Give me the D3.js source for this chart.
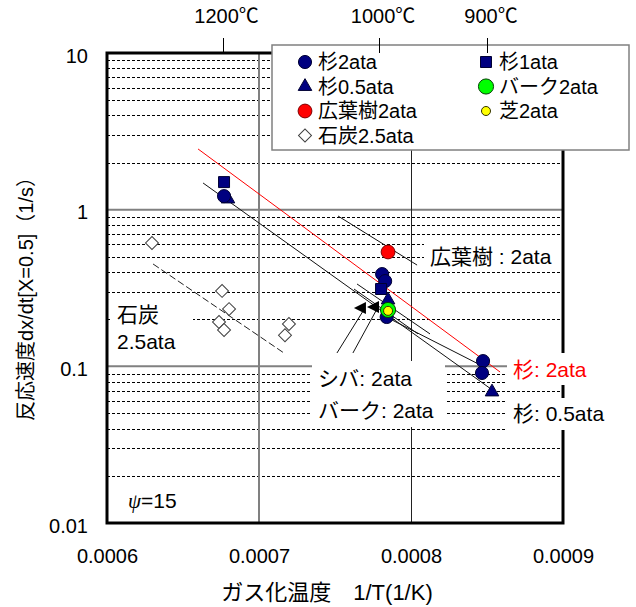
<!DOCTYPE html>
<meta charset="utf-8">
<html>
<head>
<script type="text/javascript" src="https://d3js.org/d3.v7.js"></script>
<style>
  body { margin: 0; background: white; }
  text { font-family: "Liberation Sans", "Noto Sans CJK JP", sans-serif; fill: black; }
</style>
</head>
<body>
<div id="plotArea"></div>
<script>

  // values (x = 1/T [1/K], y = dx/dt [1/s])
  const xTicks = [0.0006, 0.0007, 0.0008, 0.0009];
  const yTicks = [10, 1, 0.1, 0.01];
  const tempLabels = ['1200℃', '1000℃', '900℃'];
  const tempInvT = [0.000676, 0.000779, 0.000850];

  const sugi2X = [0.000677, 0.000781, 0.000783, 0.000784, 0.0008474, 0.0008467];
  const sugi2Y = [1.22, 0.388, 0.350, 0.2065, 0.108, 0.0907];
  const sugi1X = [0.000677, 0.0007803];
  const sugi1Y = [1.50, 0.3116];
  const sugi05X = [0.0006796, 0.0007849, 0.0008533];
  const sugi05Y = [1.17, 0.265, 0.0686];
  const barkX = [0.0007849];
  const barkY = [0.229];
  const broadX = [0.0007849];
  const broadY = [0.537];
  const shibaX = [0.0007849];
  const shibaY = [0.226];
  const coalX = [0.0006296, 0.0006757, 0.0006803, 0.0006737, 0.000677, 0.0007197, 0.0007171];
  const coalY = [0.613, 0.303, 0.232, 0.192, 0.1706, 0.1864, 0.158];

  // fitted lines (end points)
  const fitSugi2X = [0.0006599, 0.0008586], fitSugi2Y = [2.44, 0.092];
  const fitSugi05X = [0.0006632, 0.0008526], fitSugi05Y = [1.48, 0.0717];
  const fitBroadX = [0.000752, 0.000804], fitBroadY = [0.911, 0.443];
  const fitCoalX = [0.0006303, 0.0007164], fitCoalY = [0.450, 0.1217];
  const fitShibaX = [0.0007645, 0.0008125], fitShibaY = [0.3354, 0.161];
  const fitBarkX = [0.0007625, 0.0008046], fitBarkY = [0.3116, 0.161];
  const fitSugi1X = [0.0007875, 0.0008474], fitSugi1Y = [0.1976, 0.100];

  // annotation arrows (tail -> head)
  const arrowShibaX = [0.0007513, 0.0007697], arrowShibaY = [0.1217, 0.2357];
  const arrowBarkX = [0.0007618, 0.0007783], arrowBarkY = [0.1217, 0.239];

  // set the dimensions and margins of the graph
  const margin = {top: 53, right: 73, bottom: 84, left: 107},
        width = 636 - margin.left - margin.right,
        height = 607 - margin.top - margin.bottom;

  const svg = d3.select("#plotArea")
                .append("svg")
                .attr("width", 636)
                .attr("height", 607);
  const g = svg.append("g").attr("transform", `translate(${margin.left}, ${margin.top})`);

  const xScale = d3.scaleLinear().domain([0.0006, 0.0009]).range([0, width]);
  const yScale = d3.scaleLog().domain([0.01, 10]).range([height, 0]);
  const px = v => Math.round(v) + 0.5;

  // dashed minor grid
  var minor = [];
  [0.01, 0.1, 1].forEach(function(d) { for (var k = 2; k < 10; k++) minor.push(k * d); });
  g.append('g').selectAll('line').data(minor).enter().append('line')
    .attr('x1', 0).attr('x2', width)
    .attr('y1', d => px(yScale(d))).attr('y2', d => px(yScale(d)))
    .attr('stroke', 'black').attr('stroke-width', 1).attr('stroke-dasharray', '3,2');

  // major grid
  g.append('g').selectAll('line').data([1, 0.1]).enter().append('line')
    .attr('x1', 0).attr('x2', width)
    .attr('y1', d => yScale(d)).attr('y2', d => yScale(d))
    .attr('stroke', '#808080').attr('stroke-width', 2);
  g.append('line')
    .attr('x1', xScale(0.0007)).attr('x2', xScale(0.0007)).attr('y1', 0).attr('y2', height)
    .attr('stroke', '#808080').attr('stroke-width', 2);
  g.append('line')
    .attr('x1', px(xScale(0.0008))).attr('x2', px(xScale(0.0008))).attr('y1', 0).attr('y2', height)
    .attr('stroke', '#222').attr('stroke-width', 1);

  // white boxes behind the text labels
  const boxes = svg.append('g');
  function box(parent, x, y, w, h) {
    parent.append('rect').attr('x', x).attr('y', y).attr('width', w).attr('height', h).attr('fill', 'white');
  }
  box(boxes, 424, 241, 137, 28);
  box(boxes, 312, 361, 133, 66);
  box(boxes, 110, 298, 83, 60);

  // fitted lines
  const line = d3.line().x(d => xScale(d[0])).y(d => yScale(d[1]));
  function fit(xs, ys, color, dash) {
    g.append('path').datum(d3.zip(xs, ys)).attr('d', line)
      .attr('fill', 'none').attr('stroke', color).attr('stroke-width', 1)
      .attr('stroke-dasharray', dash || null);
  }
  fit(fitSugi2X, fitSugi2Y, 'red');
  fit(fitSugi05X, fitSugi05Y, '#111');
  fit(fitBroadX, fitBroadY, '#111');
  fit(fitCoalX, fitCoalY, '#222', '7,3');
  fit(fitShibaX, fitShibaY, '#111');
  fit(fitBarkX, fitBarkY, '#111');
  fit(fitSugi1X, fitSugi1Y, '#111');

  // arrows
  [[arrowShibaX, arrowShibaY], [arrowBarkX, arrowBarkY]].forEach(function(a) {
    fit(a[0], a[1], '#111');
    var hx = xScale(a[0][1]), hy = yScale(a[1][1]);
    g.append('path')
      .attr('d', `M${hx - 11},${hy} L${hx + 1},${hy - 6} L${hx + 1},${hy + 6} Z`)
      .attr('fill', 'black');
  });

  // series table
  const series = [
    {name: '杉2ata', xs: sugi2X, ys: sugi2Y, type: d3.symbolCircle, size: 135, fill: '#000080', stroke: '#000033', rot: 0},
    {name: '杉1ata', xs: sugi1X, ys: sugi1Y, type: d3.symbolSquare, size: 121, fill: '#000080', stroke: '#000033', rot: 0},
    {name: '杉0.5ata', xs: sugi05X, ys: sugi05Y, type: d3.symbolTriangle, size: 80, fill: '#000080', stroke: '#000033', rot: 0},
    {name: 'バーク2ata', xs: barkX, ys: barkY, type: d3.symbolCircle, size: 180, fill: '#00ff00', stroke: '#004000', rot: 0},
    {name: '広葉樹2ata', xs: broadX, ys: broadY, type: d3.symbolCircle, size: 150, fill: '#ff0000', stroke: '#800000', rot: 0},
    {name: '芝2ata', xs: shibaX, ys: shibaY, type: d3.symbolCircle, size: 64, fill: '#ffff00', stroke: '#333300', rot: 0},
    {name: '石炭2.5ata', xs: coalX, ys: coalY, type: d3.symbolSquare, size: 84, fill: 'white', stroke: '#404040', rot: 45}
  ];
  const drawOrder = [6, 2, 0, 1, 4, 3, 5];

  drawOrder.forEach(function(i) {
    var s = series[i];
    g.append('g').selectAll('path').data(d3.zip(s.xs, s.ys)).enter().append('path')
      .attr('d', d3.symbol(s.type, s.size))
      .attr('transform', d => `translate(${xScale(d[0])},${yScale(d[1])}) rotate(${s.rot})`)
      .attr('fill', s.fill).attr('stroke', s.stroke).attr('stroke-width', 1);
  });

  // frame
  g.append('rect').attr('x', 0).attr('y', 0).attr('width', width).attr('height', height)
    .attr('fill', 'none').attr('stroke', 'black').attr('stroke-width', 3);

  box(svg, 507, 353, 100, 32);
  box(svg, 507, 398, 105, 32);

  // axes
  var yAxis = g.append('g').call(d3.axisLeft(yScale).tickValues(yTicks).tickSize(0).tickPadding(19)
    .tickFormat(d => String(d)));
  var xAxis = g.append('g').attr('transform', `translate(0,${height})`)
    .call(d3.axisBottom(xScale).tickValues(xTicks).tickSize(0).tickPadding(26).tickFormat(d3.format('.4f')));
  [xAxis, yAxis].forEach(function(a) {
    a.select('.domain').remove();
    a.selectAll('text').style('font-size', '20px').style('font-family', null);
  });
  yAxis.selectAll('text').attr('dy', '0.45em');

  // axis titles
  svg.append('text').attr('x', 327).attr('y', 600).attr('text-anchor', 'middle')
    .style('font-size', '22px').text('ガス化温度　1/T(1/K)');
  svg.append('text').attr('transform', 'translate(33,294) rotate(-90)').attr('text-anchor', 'middle')
    .style('font-size', '20px').text('反応速度dx/dt[X=0.5]（1/s）');

  // annotation texts
  function label(x, y, t, color) {
    svg.append('text').attr('x', x).attr('y', y).style('font-size', '21px')
      .style('fill', color || 'black').style('white-space', 'pre').text(t);
  }
  label(430, 264, '広葉樹 : 2ata');
  label(318, 386, 'シバ: 2ata');
  label(318, 418, 'バーク: 2ata');
  label(513, 377, '杉: 2ata', 'red');
  label(513, 421, '杉: 0.5ata');
  label(117, 322, '石炭');
  label(117, 349, '2.5ata');
  var psi = svg.append('text').attr('x', 128).attr('y', 508).style('font-size', '21px');
  psi.append('tspan').style('font-style', 'italic').style('font-family', '"Liberation Serif", serif').text('ψ');
  psi.append('tspan').text('=15');

  // legend
  var legend = svg.append('g');
  legend.append('rect').attr('x', 272).attr('y', 45).attr('width', 357).attr('height', 105)
    .attr('fill', 'white').attr('stroke', '#808080').attr('stroke-width', 1.5);
  series.forEach(function(s, i) {
    var col = i === 6 ? 0 : i % 2, row = i === 6 ? 3 : Math.floor(i / 2);
    var lx = col === 0 ? 305 : 486, ly = 62 + row * 24.5;
    legend.append('path').attr('d', d3.symbol(s.type, s.size))
      .attr('transform', `translate(${lx},${ly}) rotate(${s.rot})`)
      .attr('fill', s.fill).attr('stroke', s.stroke).attr('stroke-width', 1);
    legend.append('text').attr('x', lx + 13).attr('y', ly + 7).style('font-size', '20px').text(s.name);
  });

  // temperature ticks on top
  svg.append('g').selectAll('line').data(tempInvT).enter().append('line')
    .attr('x1', d => px(margin.left + xScale(d))).attr('x2', d => px(margin.left + xScale(d)))
    .attr('y1', 38).attr('y2', 53).attr('stroke', 'black').attr('stroke-width', 1);
  svg.append('g').selectAll('text').data(tempLabels).enter().append('text')
    .attr('x', (d, i) => margin.left + xScale(tempInvT[i]) + 4).attr('y', 23)
    .attr('text-anchor', 'middle').style('font-size', '20px').text(d => d);

</script>
</body>
</html>
